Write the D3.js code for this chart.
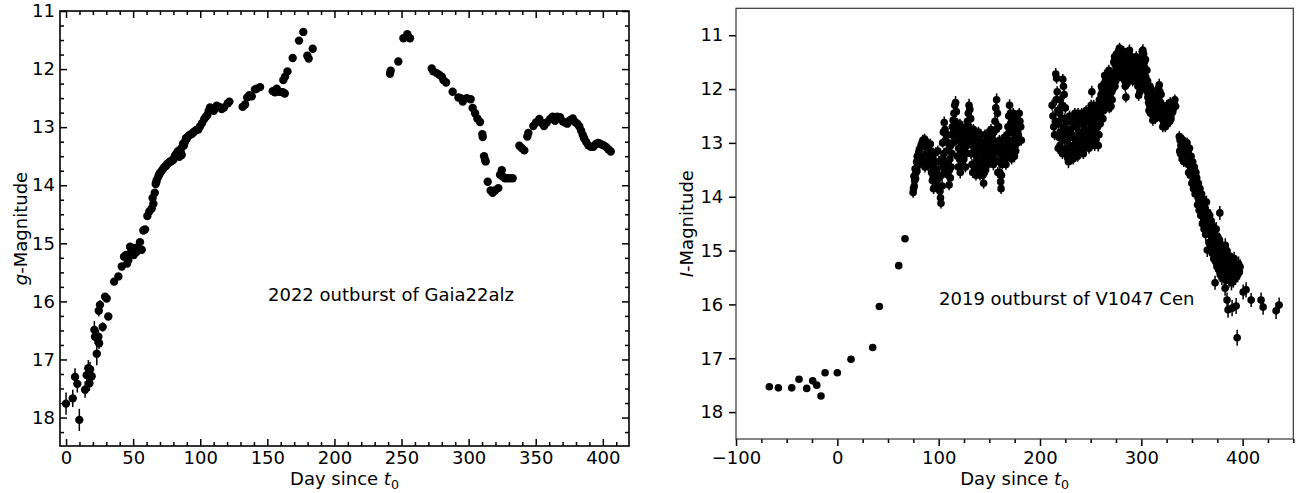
<!DOCTYPE html>
<html>
<head>
<meta charset="utf-8">
<script src="https://cdn.jsdelivr.net/npm/d3@7"></script>
<style>
  body { margin: 0; background: #fff; }
  svg text { font-family: "DejaVu Sans", sans-serif; fill: #000; }
</style>
</head>
<body>
<svg id="chart" width="1298" height="493"></svg>
<script>
// ---------------- Gaia22alz, g band: [day since t0, magnitude, error] ----------------
const gaiaRise = [
  [0.0,17.76,.19],[5.0,17.67,.15],[6.7,17.30,.15],[8.4,17.42,.15],[9.9,18.04,.19],
  [14.2,17.52,.14],[15.4,17.27,.14],[16.6,17.15,.14],[17.4,17.41,.13],[17.9,17.17,.13],
  [19.1,17.29,.12],[21.1,16.49,.15],[21.6,16.61,.12],[22.9,16.90,.20],[24.1,16.61,.12],
  [24.6,16.72,.10],[24.4,16.16,.10],[25.3,16.06,.08],[27.3,16.44,.08],[29.1,15.92,.06],
  [30.3,15.95,.05],[31.5,16.26,.05],[35.8,15.66,.04],[39.0,15.57,.04],[41.5,15.40,.04],
  [43.2,15.23,.04],[44.7,15.20,.04],[45.5,15.35,.04],[46.4,15.29,.04],[47.7,15.06,.03],
  [48.5,15.10,.03],[49.7,15.16,.03],[50.5,15.20,.03],[51.4,15.08,.03],[52.5,15.15,.03],
  [53.8,15.10,.03],[55.1,14.98,.03],[56.4,15.11,.03],[57.6,14.78,.03],[58.9,14.76,.03],
  [60.6,14.53,.03],[62.1,14.45,.03],[63.8,14.40,.03],[64.5,14.22,.03],[65.1,14.32,.03],
  [66.1,14.13,.03],[66.8,13.98,.03],[67.2,13.95,.03],[67.6,13.91,.03],[68.8,13.85,.03],
  [69.4,13.82,.03],[70.0,13.79,.03],[71.3,13.75,.03],[72.5,13.71,.03],[73.5,13.68,.03],
  [74.5,13.67,.03],[75.3,13.64,.03],[76.2,13.62,.03],[77.1,13.60,.03],[78.0,13.59,.03],
  [79.0,13.57,.03],[80.0,13.56,.03],[81.0,13.50,.03],[82.0,13.46,.03],[83.2,13.42,.03],
  [83.8,13.44,.03],[84.4,13.51,.03],[85.0,13.39,.03],[85.6,13.44,.03],[86.2,13.48,.03],
  [86.6,13.34,.03],[87.3,13.28,.03],[87.9,13.31,.03],[88.7,13.25,.03],[89.4,13.19,.03],
  [90.0,13.20,.03],[91.2,13.15,.03],[92.4,13.13,.03],[93.6,13.12,.03],[94.5,13.10,.03],
  [95.4,13.08,.03],[97.0,13.05,.03],[98.6,13.04,.03],[99.8,12.99,.03],[101.4,12.93,.03],
  [103.0,12.86,.03],[104.2,12.82,.03],[105.3,12.79,.03],[106.3,12.72,.03],[107.3,12.66,.03],
  [108.5,12.70,.03],[110.0,12.72,.03],[111.0,12.68,.03],[112.3,12.63,.03],[114.0,12.65,.03],
  [116.0,12.69,.03],[117.7,12.66,.03],[120.5,12.59,.03],[121.7,12.56,.03],[131.6,12.65,.03],
  [133.4,12.61,.03],[135.0,12.49,.03],[136.6,12.45,.03],[138.4,12.47,.03],[140.8,12.35,.03],
  [142.0,12.34,.03],[144.6,12.31,.03],[154.0,12.38,.03],[155.7,12.40,.03],[157.0,12.34,.03],
  [159.0,12.39,.03],[161.5,12.40,.03],[163.0,12.42,.03],[161.9,12.19,.03],[163.2,12.13,.03],
  [165.0,12.04,.03],[168.9,11.81,.03],[173.6,11.51,.03],[176.8,11.36,.03],[179.8,11.77,.03],
  [180.8,11.82,.03],[183.8,11.65,.03]
];
const gaiaFade = [
  [241.4,12.08,.03],[241.9,12.03,.03],[247.6,11.87,.03],[251.4,11.47,.03],[254.3,11.40,.03],
  [256.3,11.47,.03],[272.5,11.99,.03],[273.7,12.04,.03],[276.2,12.07,.03],[278.2,12.10,.03],
  [280.0,12.13,.03],[281.2,12.19,.03],[283.2,12.23,.03],[288.1,12.39,.03],[292.4,12.49,.03],
  [294.1,12.50,.03],[295.6,12.56,.03],[296.1,12.53,.03],[298.6,12.50,.03],[301.5,12.52,.03],
  [303.0,12.67,.03],[304.8,12.76,.03],[306.5,12.85,.03],[308.5,12.91,.03],[310.2,13.12,.03],
  [310.5,13.17,.03],[311.5,13.50,.03],[312.2,13.56,.03],[312.7,13.59,.03],[314.2,13.94,.03],
  [316.4,14.09,.03],[317.9,14.13,.03],[319.7,14.09,.03],[322.1,14.05,.03],[323.4,13.82,.03],
  [324.7,13.74,.03],[325.4,13.85,.03],[327.1,13.88,.03],[328.8,13.88,.03],[330.8,13.88,.03],
  [332.8,13.88,.03]
];
const gaiaRebright = [
  [337.8,13.32,.03],[339.5,13.36,.03],[341.5,13.40,.03],[343.7,13.16,.03],[344.5,13.10,.03],
  [348.2,12.98,.03],[350.2,12.92,.03],[352.7,12.86,.03],[354.5,12.93,.03],[356.2,12.98,.03],
  [358.2,12.92,.03],[360.7,12.86,.03],[362.6,12.82,.03],[364.4,12.89,.03],[366.1,12.82,.03],
  [368.1,12.83,.03],[370.1,12.90,.03],[371.8,12.92,.03],[373.5,12.94,.03],[375.6,12.88,.03],
  [377.6,12.85,.03],[379.3,12.91,.03],[381.0,12.94,.03],[382.5,12.99,.03],[383.8,13.06,.03],
  [385.0,13.13,.03],[386.0,13.19,.03],[387.5,13.25,.03],[389.2,13.31,.03],[391.0,13.34,.03],
  [392.9,13.34,.03],[394.9,13.29,.03],[396.6,13.27,.03],[398.4,13.29,.03],[400.4,13.31,.03],
  [402.4,13.34,.03],[404.1,13.38,.03],[405.9,13.42,.03]
];

// ---------------- V1047 Cen, I band: [day since t0, magnitude, error] ----------------
const cenQuiescence = [
  [-67.1,17.53,.03],[-58.2,17.55,.03],[-45.0,17.55,.03],[-37.8,17.39,.03],[-30.2,17.56,.03],
  [-24.3,17.42,.03],[-20.3,17.50,.03],[-16.1,17.70,.03],[-12.1,17.27,.03],[0.0,17.27,.03],
  [13.5,17.02,.03],[34.9,16.80,.03],[41.5,16.04,.03],[60.6,15.28,.03],[66.8,14.78,.03]
];
const cenSeason1 = [
  [74.8,13.92,.10],[75.2,13.85,.10],[75.6,13.62,.09],[75.9,13.80,.10],[76.3,13.70,.10],
  [76.8,13.48,.09],[77.2,13.66,.10],[77.5,13.56,.10],[78.2,13.35,.09],[78.6,13.52,.10],
  [78.9,13.25,.10],[79.6,13.42,.10],[80.3,13.18,.09],[80.7,13.35,.10],[81.0,13.12,.10],
  [81.8,13.28,.11],[82.6,13.05,.10],[83.0,13.35,.10],[83.5,13.00,.09],[84.4,12.95,.10],
  [85.0,13.25,.10],[85.3,13.02,.11],[86.1,12.93,.10],[86.5,13.45,.10],[87.0,13.08,.09],
  [87.9,13.20,.10],[88.0,12.98,.10],[88.8,13.30,.11],[89.2,13.10,.10],[89.6,13.42,.10],
  [90.4,13.35,.10],[91.3,13.25,.09],[91.8,13.02,.10],[92.1,13.40,.10],[92.6,13.15,.10],
  [93.0,13.55,.11],[93.8,13.70,.10],[94.2,13.30,.10],[94.7,13.62,.10],[95.0,13.85,.10],
  [95.5,13.48,.09],[96.4,13.35,.10],[96.8,13.60,.10],[97.2,13.18,.10],[97.8,13.72,.10],
  [98.1,13.50,.11],[98.9,13.78,.10],[99.2,13.15,.10],[99.7,13.85,.10],[100.2,13.35,.10],
  [100.6,13.65,.10],[101.3,13.90,.11],[101.8,14.02,.10],[102.3,14.12,.10],[102.8,13.60,.10],
  [103.1,13.30,.10],[103.5,13.80,.10],[103.9,13.00,.09],[104.3,13.45,.10],[104.7,12.80,.10],
  [105.1,13.20,.10],[105.5,12.62,.11],[106.3,12.75,.10],[106.7,13.35,.10],[107.1,12.95,.10],
  [107.5,13.55,.10],[107.9,13.15,.09],[108.3,12.85,.10],[108.7,13.42,.10],[109.1,13.00,.10],
  [109.5,13.60,.11],[110.3,13.78,.10],[110.7,13.50,.10],[111.1,13.30,.10],[111.5,13.65,.10],
  [111.9,13.05,.10],[112.3,13.45,.10],[112.7,12.85,.09],[113.1,13.20,.10],[113.5,12.70,.10],
  [113.9,13.00,.10],[114.3,12.58,.10],[114.7,12.80,.10],[115.1,12.45,.11],[115.9,12.30,.10],
  [116.3,12.60,.10],[116.7,12.25,.12],[117.4,12.42,.10],[117.8,12.95,.10],[118.2,12.70,.10],
  [118.6,13.25,.10],[119.0,12.90,.09],[119.4,13.45,.10],[119.8,13.10,.10],[120.2,12.80,.10],
  [120.6,13.30,.10],[121.0,12.65,.10],[121.3,13.55,.11],[121.7,12.90,.10],[122.1,13.20,.10],
  [122.5,13.45,.10],[122.9,13.00,.10],[123.3,13.35,.10],[123.7,12.85,.09],[124.1,12.75,.10],
  [124.5,13.05,.10],[124.9,13.30,.10],[125.3,12.95,.10],[125.6,12.75,.10],[126.0,13.15,.11],
  [126.4,13.45,.10],[126.8,12.88,.10],[127.2,13.20,.10],[127.6,12.72,.10],[128.0,13.05,.10],
  [128.4,12.60,.10],[128.8,12.85,.10],[129.2,12.45,.11],[129.6,12.70,.10],[130.0,12.30,.12],
  [130.8,12.38,.10],[131.2,12.95,.10],[131.6,12.55,.10],[132.0,13.20,.10],[132.4,12.75,.09],
  [132.8,13.40,.10],[133.2,12.90,.10],[133.6,13.55,.10],[134.0,13.05,.10],[134.4,12.75,.10],
  [134.8,13.20,.11],[135.2,13.45,.10],[135.6,13.00,.10],[136.0,12.85,.10],[136.4,13.12,.10],
  [136.8,13.60,.10],[137.2,13.35,.10],[137.6,12.95,.10],[138.0,13.25,.09],[138.4,13.50,.10],
  [138.8,13.15,.10],[139.2,12.80,.10],[139.6,13.05,.10],[140.0,13.40,.10],[140.4,12.95,.11],
  [140.8,13.60,.10],[141.2,13.10,.10],[141.6,12.85,.10],[142.0,13.30,.10],[142.4,13.00,.10],
  [142.8,13.45,.10],[143.2,13.15,.10],[143.6,13.60,.11],[144.0,13.30,.10],[144.4,13.75,.10],
  [144.8,13.00,.10],[145.2,13.55,.10],[145.6,12.85,.10],[146.0,13.30,.09],[146.4,13.50,.10],
  [146.8,13.15,.10],[147.2,13.35,.10],[147.6,13.05,.10],[148.0,13.25,.10],[148.4,12.95,.10],
  [148.8,13.40,.10],[149.2,13.10,.11],[149.6,12.80,.10],[150.0,13.00,.10],[150.4,13.30,.10],
  [150.8,12.85,.10],[151.2,13.15,.10],[151.6,12.75,.10],[152.0,13.35,.10],[152.4,12.95,.09],
  [152.8,12.85,.10],[153.2,13.20,.10],[153.6,12.95,.10],[154.0,13.40,.11],[154.4,12.80,.10],
  [154.8,13.10,.10],[155.2,13.30,.10],[155.6,12.60,.10],[156.0,13.00,.10],[156.4,12.35,.11],
  [156.8,12.75,.10],[157.2,12.20,.12],[157.6,13.15,.10],[158.0,12.45,.10],[158.4,13.55,.10],
  [158.8,13.00,.10],[159.2,12.70,.10],[159.6,13.35,.10],[160.0,12.95,.10],[160.4,13.55,.11],
  [160.8,13.20,.10],[161.2,13.72,.10],[161.6,13.85,.10],[162.0,13.60,.10],[162.4,13.05,.10],
  [162.8,13.40,.09],[163.2,12.95,.10],[163.6,13.25,.10],[164.0,13.35,.10],[164.4,13.10,.10],
  [164.8,12.90,.10],[165.2,13.30,.10],[165.6,13.05,.10],[166.0,13.20,.11],[166.4,13.40,.10],
  [166.8,13.00,.10],[167.2,13.25,.10],[167.6,12.85,.10],[168.0,13.10,.10],[168.4,12.70,.10],
  [168.8,12.95,.10],[169.2,12.50,.10],[169.6,12.80,.10],[170.0,12.30,.11],[170.4,13.00,.10],
  [170.8,12.45,.10],[171.2,13.15,.10],[171.6,12.62,.10],[172.0,13.30,.10],[172.4,12.80,.10],
  [172.8,12.60,.10],[173.2,12.95,.09],[173.6,12.45,.10],[174.0,13.10,.10],[174.4,12.70,.10],
  [174.8,13.25,.11],[175.2,12.55,.10],[175.6,13.05,.10],[176.0,13.15,.10],[176.4,12.88,.10],
  [176.8,12.95,.10],[177.2,12.75,.10],[177.6,13.00,.10],[178.0,12.60,.10],[178.6,12.85,.10],
  [179.5,12.45,.10],[180.2,12.60,.10],[181.0,12.70,.10],[181.6,12.95,.10]
];
const cenSeason2 = [
  [212.0,12.30,.10],[212.8,12.50,.10],[213.6,12.70,.09],[214.4,12.85,.10],[215.2,12.60,.10],
  [215.6,11.72,.11],[216.0,12.20,.10],[216.4,11.80,.10],[217.0,12.05,.10],[217.3,12.85,.10],
  [217.6,12.40,.10],[218.0,13.10,.10],[218.3,12.65,.09],[219.0,12.90,.10],[219.4,12.45,.10],
  [219.7,13.05,.10],[220.0,12.20,.10],[220.4,12.80,.11],[220.8,13.15,.10],[221.1,12.55,.10],
  [221.5,12.90,.10],[221.8,12.30,.10],[222.2,13.20,.10],[222.5,11.82,.10],[223.2,11.95,.10],
  [223.6,12.70,.10],[223.9,12.10,.09],[224.3,12.95,.10],[224.6,12.55,.10],[225.0,12.35,.10],
  [225.3,12.85,.10],[225.7,12.60,.10],[226.0,13.10,.11],[226.4,12.75,.10],[226.7,13.20,.10],
  [227.1,12.95,.10],[227.4,13.28,.10],[227.8,12.60,.10],[228.1,13.35,.12],[228.5,12.80,.10],
  [228.8,13.20,.10],[229.2,12.50,.10],[229.5,13.05,.10],[229.9,12.75,.10],[230.2,13.25,.11],
  [230.6,12.60,.10],[230.9,13.30,.10],[231.3,12.85,.10],[231.6,13.10,.10],[232.0,13.15,.10],
  [232.3,12.90,.10],[232.7,13.30,.10],[233.0,12.70,.09],[233.4,13.05,.10],[233.7,12.55,.10],
  [234.1,12.90,.10],[234.4,12.45,.10],[234.8,13.20,.10],[235.1,12.70,.10],[235.5,12.50,.10],
  [235.8,12.95,.11],[236.2,12.65,.10],[236.5,13.15,.10],[236.9,12.55,.10],[237.2,13.25,.10],
  [237.6,12.45,.10],[237.9,13.00,.09],[238.3,13.10,.10],[238.6,12.80,.10],[239.0,13.20,.10],
  [239.3,12.60,.10],[239.7,12.95,.10],[240.0,12.50,.10],[240.4,13.15,.10],[240.7,12.65,.10],
  [241.1,12.45,.10],[241.4,12.85,.11],[241.8,12.60,.10],[242.1,13.05,.10],[242.5,12.50,.10],
  [242.8,13.20,.10],[243.2,12.65,.10],[243.5,12.95,.10],[243.9,13.10,.10],[244.2,12.75,.09],
  [244.6,13.00,.10],[244.9,12.55,.10],[245.3,12.90,.10],[245.6,12.40,.10],[246.0,13.05,.10],
  [246.3,12.60,.10],[246.7,12.45,.10],[247.0,12.80,.11],[247.4,12.55,.10],[247.7,12.95,.10],
  [248.1,12.40,.10],[248.4,13.10,.10],[248.8,12.60,.10],[249.1,12.85,.10],[249.5,13.00,.10],
  [249.8,12.60,.10],[250.2,12.90,.10],[250.5,12.30,.10],[250.9,12.70,.10],[251.2,12.05,.11],
  [251.6,12.85,.10],[251.9,12.50,.10],[252.3,12.40,.10],[252.6,12.75,.10],[253.0,12.30,.10],
  [253.3,12.90,.09],[253.7,12.55,.10],[254.0,13.05,.10],[254.4,12.45,.10],[254.7,12.80,.10],
  [255.1,12.95,.10],[255.4,12.60,.10],[255.8,12.85,.10],[256.1,12.45,.10],[256.5,12.30,.10],
  [256.8,12.70,.10],[257.2,12.55,.10],[257.5,13.05,.11],[257.9,12.40,.10],[258.2,12.85,.10],
  [258.6,12.20,.10],[258.9,12.50,.10],[259.3,12.65,.10],[259.6,12.30,.10],[260.0,12.55,.10],
  [260.3,12.10,.09],[260.7,11.95,.10],[261.0,12.25,.10],[261.4,12.00,.10],[261.7,12.40,.10],
  [262.1,12.55,.10],[262.4,12.20,.10],[262.8,12.40,.10],[263.1,11.95,.10],[263.5,12.25,.10],
  [263.8,11.75,.11],[264.2,12.10,.10],[264.5,11.85,.10],[264.9,12.35,.10],[265.2,12.05,.10],
  [265.6,11.90,.10],[265.9,12.20,.10],[266.3,12.30,.10],[266.6,12.00,.09],[267.0,12.10,.10],
  [267.3,11.80,.10],[267.7,12.20,.10],[268.0,11.65,.10],[268.4,12.35,.10],[268.7,11.90,.10],
  [269.1,11.75,.10],[269.4,12.15,.10],[269.8,11.95,.10],[270.1,12.32,.11],[270.5,11.75,.10],
  [270.8,12.05,.10],[271.2,12.20,.10],[271.5,11.85,.10],[271.9,12.00,.10],[272.2,11.70,.10],
  [272.6,11.90,.10],[272.9,11.50,.09],[273.3,11.75,.10],[273.6,11.40,.10],[274.0,11.95,.10],
  [274.3,11.55,.10],[274.7,11.85,.10],[275.0,11.70,.10],[275.4,11.35,.10],[275.7,11.60,.10],
  [276.1,11.80,.10],[276.4,11.45,.10],[276.8,11.65,.10],[277.1,11.35,.11],[277.5,11.55,.10],
  [277.8,11.28,.10],[278.2,11.50,.10],[278.5,11.24,.10],[278.9,11.60,.10],[279.2,11.30,.10],
  [279.6,11.70,.10],[279.9,11.42,.09],[280.3,11.35,.10],[280.6,11.55,.10],[281.0,11.40,.10],
  [281.3,11.65,.10],[281.7,11.45,.10],[282.0,11.80,.10],[282.4,11.30,.10],[282.7,11.60,.10],
  [283.1,11.75,.10],[283.4,11.50,.10],[283.8,11.85,.10],[284.1,11.95,.10],[284.5,11.35,.10],
  [284.8,12.15,.10],[285.2,11.45,.10],[285.5,11.75,.10],[285.9,11.90,.10],[286.2,11.60,.09],
  [286.6,11.80,.10],[286.9,11.45,.10],[287.3,11.60,.10],[287.6,11.35,.10],[288.0,11.50,.10],
  [288.3,11.28,.11],[288.7,11.65,.10],[289.0,11.40,.10],[289.4,11.75,.10],[289.7,11.55,.10],
  [290.1,11.45,.10],[290.4,11.70,.10],[290.8,11.40,.10],[291.1,11.62,.10],[291.5,11.85,.10],
  [291.8,11.50,.09],[292.2,11.80,.10],[292.5,11.60,.10],[292.9,11.45,.10],[293.2,11.75,.10],
  [293.6,11.50,.10],[293.9,11.68,.10],[294.3,11.85,.10],[294.6,11.58,.10],[295.0,11.40,.10],
  [295.3,11.65,.10],[295.7,11.50,.10],[296.0,11.85,.10],[296.4,11.70,.10],[296.7,11.95,.11],
  [297.1,11.75,.10],[297.4,12.12,.10],[297.8,11.60,.10],[298.1,11.90,.10],[298.5,12.05,.10],
  [298.8,11.70,.10],[299.2,11.85,.10],[299.5,11.55,.10],[299.9,11.70,.10],[300.2,11.40,.09],
  [300.6,11.55,.10],[300.9,11.30,.10],[301.3,11.60,.10],[301.6,11.28,.11],[302.0,11.80,.10],
  [302.3,11.35,.10],[302.7,11.95,.10],[303.0,11.50,.10],[303.4,11.75,.10],[303.7,11.62,.10],
  [304.1,11.45,.10],[304.4,11.78,.10],[304.8,12.00,.10],[305.1,11.90,.10],[305.5,11.65,.10],
  [305.8,12.05,.10],[306.2,11.85,.10],[306.5,12.15,.10],[306.9,11.95,.10],[307.2,12.25,.10],
  [307.6,12.40,.10],[307.9,12.05,.09],[308.3,12.30,.10],[308.6,11.95,.10],[309.0,12.45,.10],
  [309.3,12.15,.10],[309.7,12.00,.10],[310.0,12.30,.10],[310.4,12.15,.10],[310.7,12.45,.11],
  [311.1,12.25,.10],[311.4,12.58,.10],[311.8,12.10,.10],[312.1,12.40,.10],[312.5,12.50,.10],
  [312.8,12.20,.10],[313.2,12.35,.10],[313.5,12.10,.10],[313.9,12.55,.10],[314.2,12.30,.10],
  [314.6,12.15,.10],[314.9,12.45,.10],[315.3,12.40,.10],[315.6,12.25,.09],[316.0,12.50,.10],
  [316.3,12.10,.10],[316.7,12.30,.10],[317.0,11.98,.10],[317.4,12.20,.10],[317.7,11.92,.11],
  [318.1,12.35,.10],[318.4,12.05,.10],[318.8,12.50,.10],[319.1,12.25,.10],[319.5,12.10,.10],
  [319.8,12.40,.10],[320.2,12.30,.10],[320.5,12.55,.10],[320.9,12.45,.10],[321.2,12.70,.10],
  [321.6,12.35,.10],[321.9,12.60,.10],[322.3,12.60,.10],[322.6,12.45,.09],[323.0,12.55,.10],
  [323.3,12.35,.10],[323.7,12.70,.10],[324.0,12.50,.10],[324.4,12.40,.10],[324.7,12.62,.10],
  [325.1,12.30,.10],[325.4,12.55,.10],[325.8,12.65,.10],[326.1,12.40,.10],[326.5,12.55,.10],
  [326.8,12.30,.11],[327.2,12.60,.10],[327.5,12.45,.10],[327.9,12.35,.10],[328.2,12.60,.10],
  [328.6,12.25,.10],[328.9,12.50,.10],[329.3,12.55,.10],[329.6,12.38,.10],[330.0,12.45,.10],
  [330.3,12.30,.10],[331.0,12.42,.10],[331.7,12.35,.10],[332.4,12.25,.11],[333.1,12.20,.10],
  [333.8,12.32,.10]
];
const cenDecline = [
  [337.5,12.88,.10],[337.9,13.15,.10],[338.3,12.95,.10],[338.7,13.20,.10],[339.1,13.05,.11],
  [339.5,12.92,.10],[339.9,13.15,.10],[340.3,13.30,.10],[340.7,13.08,.10],[341.1,12.95,.10],
  [341.5,13.25,.10],[341.9,13.35,.10],[342.3,13.20,.11],[342.7,13.00,.10],[343.1,13.10,.10],
  [343.5,13.30,.10],[343.9,13.05,.10],[344.3,13.35,.10],[344.7,13.15,.10],[345.1,13.00,.10],
  [345.5,13.30,.11],[345.9,13.15,.10],[346.3,13.40,.10],[346.7,13.55,.10],[347.1,13.28,.10],
  [347.5,13.10,.10],[347.9,13.35,.10],[348.3,13.60,.10],[348.7,13.45,.11],[349.1,13.25,.10],
  [349.5,13.50,.10],[349.9,13.75,.10],[350.3,13.60,.10],[350.7,13.35,.10],[351.1,13.55,.11],
  [351.5,13.85,.10],[351.9,13.70,.10],[352.3,13.45,.10],[352.7,13.80,.12],[353.1,13.95,.10],
  [353.5,13.68,.10],[353.9,13.55,.10],[354.3,13.85,.11],[354.7,13.65,.10],[355.1,13.95,.12],
  [355.5,14.15,.11],[355.9,13.90,.10],[356.3,13.75,.10],[356.7,14.05,.11],[357.1,14.25,.11],
  [357.5,14.00,.12],[357.9,13.85,.10],[358.3,14.15,.11],[358.7,14.35,.12],[359.1,14.10,.12],
  [359.5,13.95,.11],[359.9,14.25,.13],[360.3,14.50,.12],[360.7,14.35,.12],[361.1,14.05,.11],
  [361.5,14.20,.11],[361.9,14.60,.12],[362.3,14.45,.13],[362.7,14.20,.12],[363.1,14.55,.12],
  [363.5,14.70,.12],[363.9,14.30,.12],[364.3,14.10,.12],[364.7,14.40,.13],[365.1,14.99,.13],
  [365.5,14.50,.12],[365.9,14.30,.12],[366.3,14.62,.13],[366.7,14.85,.13],[367.1,14.55,.12],
  [367.5,14.35,.12],[367.9,14.70,.13],[368.3,14.95,.13],[368.7,14.65,.12],[369.1,14.45,.12],
  [369.5,14.80,.13],[369.9,15.05,.13],[370.3,14.75,.12],[370.7,14.55,.12],[371.1,14.88,.13],
  [371.5,15.15,.13],[371.9,14.95,.14],[372.3,14.65,.13],[372.8,15.60,.13],[373.1,15.20,.13],
  [373.5,14.85,.13],[373.9,14.60,.13],[374.3,15.00,.14],[374.7,15.30,.13],[375.1,15.10,.13],
  [375.5,14.75,.13],[375.9,14.95,.12],[376.3,15.35,.13],[376.7,15.05,.14],[377.1,14.80,.13],
  [377.5,14.30,.13],[377.9,15.45,.14],[378.3,15.15,.13],[378.7,14.90,.13],[379.1,15.25,.14],
  [379.5,15.50,.14],[379.9,15.20,.13],[380.3,14.95,.13],[380.7,15.30,.14],[381.1,15.05,.13],
  [381.5,15.35,.13],[381.9,15.50,.14],[382.3,15.10,.13],[382.7,15.70,.14],[382.9,14.90,.13],
  [383.1,15.40,.13],[383.5,15.55,.14],[383.9,15.25,.14],[384.3,15.00,.13],[384.6,15.92,.14],
  [385.0,15.20,.13],[385.4,15.45,.13],[385.6,16.10,.15],[386.2,15.30,.13],[386.6,15.55,.14],
  [387.0,15.40,.14],[387.4,15.10,.13],[387.8,15.50,.13],[388.2,15.20,.14],[388.6,15.35,.14],
  [389.0,15.60,.14],[389.6,16.07,.15],[390.0,15.20,.13],[390.4,15.45,.13],[390.8,15.55,.14],
  [391.2,15.30,.14],[391.6,15.15,.13],[392.0,15.45,.13],[392.4,15.25,.14],[393.0,15.50,.14],
  [393.6,16.03,.15],[394.0,15.35,.14],[394.6,16.62,.15],[395.2,15.45,.14],[396.0,15.25,.14],
  [396.8,15.40,.14],[397.5,15.30,.14],[400.5,15.77,.14],[403.4,15.73,.14],[408.4,15.92,.13],
  [418.2,15.92,.14],[420.2,16.05,.14],[433.0,16.12,.15],[436.0,16.01,.14]
];

// Axis ticks and labels
const gaiaXTicks = [0, 50, 100, 150, 200, 250, 300, 350, 400];
const gaiaYTicks = [11, 12, 13, 14, 15, 16, 17, 18];
const cenXTicks = [-100, 0, 100, 200, 300, 400];
const cenYTicks = [11, 12, 13, 14, 15, 16, 17, 18];
const gaiaNote = "2022 outburst of Gaia22alz";
const cenNote = "2019 outburst of V1047 Cen";

const svg = d3.select("#chart");
const FONT = 18;

function styleAxis(g) {
  g.select(".domain").remove();
  g.attr("font-size", FONT).attr("font-family", '"DejaVu Sans", sans-serif');
  g.selectAll(".tick line").attr("stroke", "#000").attr("stroke-width", 1.5);
  g.selectAll(".tick text").attr("fill", "#000");
}

function formatTick(v) {
  return v < 0 ? "\u2212" + Math.abs(v) : String(v);
}

function drawPoints(g, x, y, rows, r) {
  g.append("g").selectAll("line").data(rows).join("line")
    .attr("x1", d => x(d[0])).attr("x2", d => x(d[0]))
    .attr("y1", d => y(d[1] - d[2])).attr("y2", d => y(d[1] + d[2]))
    .attr("stroke", "#000").attr("stroke-width", 1.5);
  g.append("g").selectAll("circle").data(rows).join("circle")
    .attr("cx", d => x(d[0])).attr("cy", d => y(d[1])).attr("r", r)
    .attr("fill", "#000");
}

function addYLabel(cx, cy, italicPart) {
  const t = svg.append("text")
    .attr("transform", `translate(${cx},${cy}) rotate(-90)`)
    .attr("text-anchor", "middle").attr("font-size", FONT);
  t.append("tspan").attr("font-style", "italic").text(italicPart);
  t.append("tspan").text("-Magnitude");
}

function addXLabel(cx, cy) {
  const t = svg.append("text").attr("x", cx).attr("y", cy)
    .attr("text-anchor", "middle").attr("font-size", FONT);
  t.append("tspan").text("Day since ");
  t.append("tspan").attr("font-style", "italic").text("t");
  t.append("tspan").attr("font-size", 12.6).attr("dy", 4).text("0");
}

// ---------------- Left panel: Gaia22alz ----------------
{
  const L = 60, R = 629, T = 11, B = 446;
  const x = d3.scaleLinear().domain([-4.5, 419.5]).range([L, R]);
  const y = d3.scaleLinear().domain([11, 18.49]).range([T, B]);
  const g = svg.append("g");

  const xMinor = d3.range(10, 420, 10).filter(v => v % 50 !== 0);
  const yMinor = d3.range(11.25, 18.49, 0.25).filter(v => Math.abs(v - Math.round(v)) > 1e-6);

  const IN = -7, INm = -4;
  g.append("g").attr("transform", `translate(0,${B})`)
    .call(d3.axisBottom(x).tickValues(gaiaXTicks).tickSize(IN).tickPadding(5.2).tickFormat(formatTick)).call(styleAxis);
  g.append("g").attr("transform", `translate(0,${B})`)
    .call(d3.axisBottom(x).tickValues(xMinor).tickSize(INm).tickFormat("")).call(styleAxis);
  g.append("g").attr("transform", `translate(0,${T})`)
    .call(d3.axisTop(x).tickValues(gaiaXTicks).tickSize(IN).tickFormat("")).call(styleAxis);
  g.append("g").attr("transform", `translate(0,${T})`)
    .call(d3.axisTop(x).tickValues(xMinor).tickSize(INm).tickFormat("")).call(styleAxis);
  g.append("g").attr("transform", `translate(${L},0)`)
    .call(d3.axisLeft(y).tickValues(gaiaYTicks).tickSize(IN).tickPadding(5).tickFormat(formatTick)).call(styleAxis);
  g.append("g").attr("transform", `translate(${L},0)`)
    .call(d3.axisLeft(y).tickValues(yMinor).tickSize(INm).tickFormat("")).call(styleAxis);
  g.append("g").attr("transform", `translate(${R},0)`)
    .call(d3.axisRight(y).tickValues(gaiaYTicks).tickSize(IN).tickFormat("")).call(styleAxis);
  g.append("g").attr("transform", `translate(${R},0)`)
    .call(d3.axisRight(y).tickValues(yMinor).tickSize(INm).tickFormat("")).call(styleAxis);

  const plot = g.append("g");
  drawPoints(plot, x, y, gaiaRise.concat(gaiaFade, gaiaRebright), 4.2);

  g.append("rect").attr("x", L).attr("y", T).attr("width", R - L).attr("height", B - T)
    .attr("fill", "none").attr("stroke", "#000").attr("stroke-width", 1.6);

  g.append("text").attr("x", x(150.5)).attr("y", y(16.0)).attr("font-size", FONT).text(gaiaNote);

  addYLabel(26.5, (T + B) / 2, "g");
  addXLabel((L + R) / 2, 485);
}

// ---------------- Right panel: V1047 Cen ----------------
{
  const L = 736, R = 1293.3, T = 8.3, B = 439;
  const x = d3.scaleLinear().domain([-100, 450]).range([L, R]);
  const y = d3.scaleLinear().domain([10.5, 18.5]).range([T, B]);
  const g = svg.append("g");

  const xMinor = d3.range(-75, 451, 25).filter(v => v % 100 !== 0);

  g.append("g").attr("transform", `translate(0,${B})`)
    .call(d3.axisBottom(x).tickValues(cenXTicks).tickSize(7).tickPadding(5.2).tickFormat(formatTick)).call(styleAxis);
  g.append("g").attr("transform", `translate(0,${B})`)
    .call(d3.axisBottom(x).tickValues(xMinor).tickSize(4).tickFormat("")).call(styleAxis);
  g.append("g").attr("transform", `translate(${L},0)`)
    .call(d3.axisLeft(y).tickValues(cenYTicks).tickSize(7).tickPadding(5.7).tickFormat(formatTick)).call(styleAxis);

  const plot = g.append("g");
  drawPoints(plot, x, y, cenQuiescence.concat(cenSeason1, cenSeason2, cenDecline), 3.8);

  g.append("rect").attr("x", L).attr("y", T).attr("width", R - L).attr("height", B - T)
    .attr("fill", "none").attr("stroke", "#333").attr("stroke-width", 1.2);

  g.append("text").attr("x", x(100.4)).attr("y", y(16.01)).attr("font-size", FONT).text(cenNote);

  addYLabel(693, (T + B) / 2, "I");
  addXLabel((L + R) / 2, 485);
}
</script>
</body>
</html>
